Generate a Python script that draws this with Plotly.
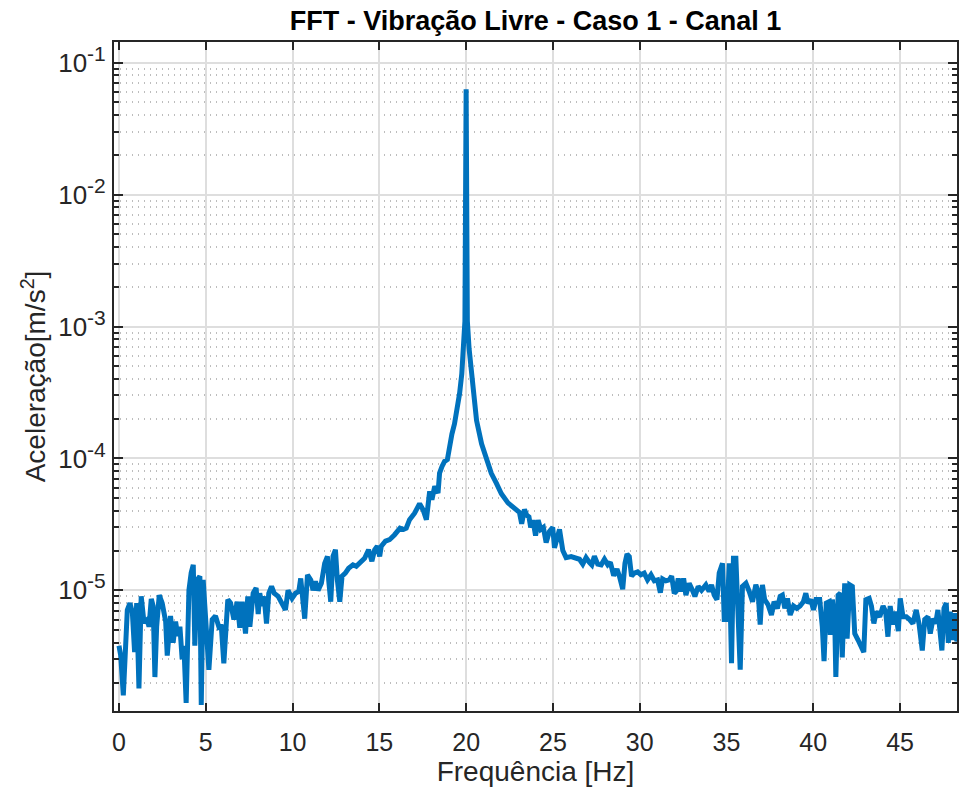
import plotly.graph_objects as go

# Frequency [Hz] and acceleration amplitude [m/s^2]
freq_hz = [
    0.0, 0.1, 0.25, 0.48, 0.63, 0.77, 0.9, 1.02, 1.15, 1.28,
    1.44, 1.63, 1.73, 1.86, 1.97, 2.07, 2.17, 2.32, 2.49, 2.69,
    2.78, 2.97, 3.12, 3.26, 3.39, 3.51, 3.64, 3.74, 3.87, 4.03,
    4.16, 4.28, 4.37, 4.51, 4.66, 4.74, 4.85, 4.99, 5.18, 5.37,
    5.56, 5.75, 5.89, 6.04, 6.14, 6.27, 6.43, 6.62, 6.81, 6.96,
    7.1, 7.29, 7.42, 7.54, 7.73, 7.9, 8.02, 8.11, 8.25, 8.36,
    8.5, 8.63, 8.79, 8.94, 9.17, 9.36, 9.59, 9.74, 9.97, 10.17,
    10.36, 10.47, 10.55, 10.7, 10.86, 11.05, 11.18, 11.32, 11.47, 11.66,
    11.85, 12.01, 12.08, 12.2, 12.33, 12.47, 12.58, 12.72, 12.85, 13.04,
    13.23, 13.48, 13.67, 13.92, 14.15, 14.38, 14.57, 14.73, 14.88, 15.02,
    15.11, 15.35, 15.59, 15.88, 16.19, 16.4, 16.55, 16.74, 17.03, 17.32,
    17.52, 17.71, 17.9, 18.03, 18.19, 18.38, 18.47, 18.61, 18.76, 18.92,
    19.05, 19.18, 19.33, 19.49, 19.62, 19.75, 19.85, 19.93, 20.0, 20.07,
    20.17, 20.27, 20.4, 20.6, 20.89, 21.17, 21.45, 21.74, 22.03, 22.41,
    22.8, 23.07, 23.2, 23.36, 23.5, 23.62, 23.72, 23.85, 24.0, 24.15,
    24.3, 24.45, 24.61, 24.8, 24.99, 25.09, 25.25, 25.38, 25.57, 25.76,
    26.05, 26.34, 26.53, 26.72, 26.91, 27.1, 27.24, 27.39, 27.58, 27.78,
    27.97, 28.16, 28.31, 28.5, 28.69, 28.83, 29.02, 29.15, 29.27, 29.4,
    29.53, 29.69, 29.88, 30.07, 30.26, 30.45, 30.65, 30.84, 31.03, 31.19,
    31.32, 31.51, 31.7, 31.84, 31.99, 32.09, 32.22, 32.38, 32.53, 32.66,
    32.85, 33.04, 33.18, 33.37, 33.56, 33.81, 34.0, 34.14, 34.29, 34.45,
    34.58, 34.77, 34.87, 35.02, 35.16, 35.29, 35.4, 35.54, 35.67, 35.79,
    35.92, 36.12, 36.31, 36.5, 36.69, 36.82, 36.94, 37.07, 37.2, 37.39,
    37.59, 37.74, 37.93, 38.09, 38.22, 38.36, 38.51, 38.67, 38.86, 39.05,
    39.24, 39.43, 39.57, 39.7, 39.86, 40.01, 40.16, 40.37, 40.52, 40.62,
    40.75, 40.91, 40.98, 41.1, 41.24, 41.3, 41.43, 41.56, 41.67, 41.81,
    41.95, 42.1, 42.25, 42.39, 42.58, 42.77, 42.91, 43.03, 43.22, 43.35,
    43.49, 43.63, 43.83, 44.02, 44.17, 44.3, 44.43, 44.59, 44.74, 44.9,
    45.01, 45.17, 45.36, 45.55, 45.74, 45.93, 46.09, 46.28, 46.42, 46.61,
    46.74, 46.9, 47.05, 47.18, 47.28, 47.41, 47.53, 47.66, 47.78, 47.89,
    48.01, 48.14, 48.27, 48.39,
]

accel = [
    3.8e-6, 3.2e-6, 1.6e-6, 7.1e-6, 8.0e-6, 6.8e-6, 3.4e-6, 8.0e-6, 1.8e-6, 9.0e-6,
    5.7e-6, 6.0e-6, 5.3e-6, 8.6e-6, 7.6e-6, 2.2e-6, 5.3e-6, 9.2e-6, 8.0e-6, 5.8e-6,
    3.2e-6, 6.4e-6, 4.0e-6, 5.8e-6, 4.5e-6, 5.3e-6, 3.0e-6, 3.8e-6, 1.4e-6, 1.0e-5,
    1.36e-5, 1.56e-5, 3.8e-6, 1.2e-5, 1.28e-5, 1.35e-6, 1.2e-5, 6.4e-6, 2.5e-6, 6.0e-6,
    6.4e-6, 5.3e-6, 5.5e-6, 2.8e-6, 4.2e-6, 8.5e-6, 8.0e-6, 6.0e-6, 8.2e-6, 5.2e-6,
    8.2e-6, 4.7e-6, 9.0e-6, 5.3e-6, 9.5e-6, 1.04e-5, 6.6e-6, 9.5e-6, 7.6e-6, 9.0e-6,
    5.6e-6, 9.5e-6, 1.07e-5, 9.5e-6, 9.0e-6, 8.2e-6, 7.1e-6, 1.0e-5, 8.7e-6, 9.5e-6,
    9.8e-6, 1.23e-5, 1.0e-5, 6.1e-6, 1.31e-5, 1.2e-5, 1.0e-5, 1.17e-5, 1.0e-5, 1.13e-5,
    1.6e-5, 1.81e-5, 1.2e-5, 8.2e-6, 1.81e-5, 2.03e-5, 1.2e-5, 8.2e-6, 1.28e-5, 1.35e-5,
    1.47e-5, 1.56e-5, 1.52e-5, 1.66e-5, 1.75e-5, 2.03e-5, 1.66e-5, 2.03e-5, 2.16e-5, 1.81e-5,
    2.16e-5, 2.36e-5, 2.42e-5, 2.64e-5, 2.96e-5, 2.9e-5, 2.96e-5, 3.43e-5, 3.84e-5, 4.54e-5,
    4.08e-5, 3.43e-5, 5.63e-5, 4.87e-5, 6.14e-5, 5.45e-5, 7.74e-5, 8.7e-5, 9.5e-5, 9.8e-5,
    1.29e-4, 1.53e-4, 1.83e-4, 2.31e-4, 3.09e-4, 4.38e-4, 6.6e-4, 1.1e-3, 6.3e-2, 1.1e-3,
    6.8e-4, 4.9e-4, 3.1e-4, 1.94e-4, 1.29e-4, 9.8e-5, 7.7e-5, 6.5e-5, 5.4e-5, 4.6e-5,
    4.1e-5, 3.9e-5, 3.2e-5, 4.1e-5, 3.7e-5, 3.6e-5, 3.0e-5, 3.4e-5, 2.6e-5, 3.4e-5,
    2.9e-5, 3.0e-5, 2.3e-5, 2.8e-5, 3.0e-5, 2.1e-5, 2.5e-5, 2.9e-5, 2.0e-5, 1.77e-5,
    1.8e-5, 1.77e-5, 1.72e-5, 1.58e-5, 1.77e-5, 1.63e-5, 1.56e-5, 1.81e-5, 1.58e-5, 1.56e-5,
    1.72e-5, 1.56e-5, 1.63e-5, 1.29e-5, 1.45e-5, 1.28e-5, 1.02e-5, 1.6e-5, 1.88e-5, 1.8e-5,
    1.28e-5, 1.35e-5, 1.38e-5, 1.31e-5, 1.35e-5, 1.2e-5, 1.31e-5, 1.18e-5, 1.2e-5, 9.6e-6,
    1.22e-5, 1.18e-5, 1.2e-5, 1.28e-5, 9.5e-6, 9.8e-6, 1.23e-5, 9.8e-6, 1.23e-5, 9.2e-6,
    1.13e-5, 1.0e-5, 9.0e-6, 1.07e-5, 1.0e-5, 1.1e-5, 9.8e-6, 1.1e-5, 9.2e-6, 8.5e-6,
    1.35e-5, 1.6e-5, 6.0e-6, 6.0e-6, 1.6e-5, 2.8e-6, 1.75e-5, 1.75e-5, 5.0e-6, 2.5e-6,
    1.07e-5, 1.13e-5, 9.8e-6, 8.2e-6, 1.1e-5, 9.8e-6, 5.5e-6, 1.1e-5, 8.5e-6, 7.8e-6,
    6.5e-6, 8.2e-6, 7.3e-6, 9.0e-6, 9.2e-6, 7.3e-6, 8.7e-6, 6.5e-6, 7.6e-6, 7.3e-6,
    7.6e-6, 8.2e-6, 9.5e-6, 8.0e-6, 8.5e-6, 7.1e-6, 8.5e-6, 8.5e-6, 5.3e-6, 2.9e-6,
    8.0e-6, 8.2e-6, 4.6e-6, 8.5e-6, 5.6e-6, 2.2e-6, 9.2e-6, 9.5e-6, 3.1e-6, 1.13e-5,
    4.3e-6, 1.1e-5, 1.07e-5, 4.7e-6, 4.2e-6, 3.75e-6, 3.4e-6, 8.5e-6, 8.7e-6, 7.6e-6,
    5.6e-6, 6.9e-6, 6.3e-6, 7.6e-6, 6.9e-6, 4.45e-6, 7.6e-6, 5.5e-6, 6.9e-6, 4.9e-6,
    8.7e-6, 6.3e-6, 6.3e-6, 6.0e-6, 5.6e-6, 7.1e-6, 5.6e-6, 3.5e-6, 6.0e-6, 6.3e-6,
    4.7e-6, 6.1e-6, 5.6e-6, 7.1e-6, 4.7e-6, 3.5e-6, 7.3e-6, 8.0e-6, 4.0e-6, 6.9e-6,
    4.2e-6, 6.7e-6, 4.1e-6, 5.6e-6,
]

x_tick_vals = [0, 5, 10, 15, 20, 25, 30, 35, 40, 45]
y_tick_vals = [1e-5, 1e-4, 1e-3, 1e-2, 1e-1]
y_tick_exps = ["-5", "-4", "-3", "-2", "-1"]
y_tick_text = ["10<sup><span style='font-size:21px'>%s</span></sup>" % e
               for e in y_tick_exps]
y_minor_vals = [m * 10.0 ** k for k in range(-6, 0) for m in range(2, 10)]

title_text = "FFT - Vibração Livre - Caso 1 - Canal 1"
x_title = "Frequência [Hz]"
y_title = "Aceleração[m/s<sup>2</sup>]"

AX = "#262626"
FONT = "Liberation Sans, Arial, sans-serif"

fig = go.Figure()
fig.add_trace(go.Scatter(
    x=freq_hz, y=accel, mode="lines",
    line=dict(color="#0072BD", width=5),
    showlegend=False,
))

fig.update_layout(
    width=960, height=796,
    margin=dict(l=114, r=1, t=42, b=85),
    paper_bgcolor="white", plot_bgcolor="white",
    font=dict(family=FONT, color=AX),
    title=dict(text="<b>" + title_text + "</b>", x=0.5, xref="paper",
               y=1 - 21 / 796, yref="container", yanchor="middle",
               font=dict(size=27, color="black", family=FONT)),
)

fig.update_xaxes(
    range=[-0.287, 48.28],
    tickmode="array", tickvals=x_tick_vals,
    ticks="inside", ticklen=8, tickwidth=2, tickcolor=AX,
    showline=True, linecolor=AX, linewidth=2, mirror="ticks",
    showgrid=True, gridcolor="#dedede", gridwidth=1.5,
    zeroline=False,
    tickfont=dict(size=25, color=AX),
    ticklabelstandoff=8,
    title=dict(text=x_title, font=dict(size=28, color=AX), standoff=6),
)

fig.update_yaxes(
    type="log", range=[-5.915, -0.843],
    tickmode="array", tickvals=y_tick_vals, ticktext=y_tick_text,
    ticks="inside", ticklen=9, tickwidth=2, tickcolor=AX,
    showline=True, linecolor=AX, linewidth=2, mirror="ticks",
    showgrid=True, gridcolor="#dedede", gridwidth=1.5,
    zeroline=False,
    tickfont=dict(size=26, color=AX),
    ticklabelstandoff=1,
    title=dict(text=y_title, font=dict(size=28, color=AX), standoff=4),
    minor=dict(tickmode="array", tickvals=y_minor_vals,
               ticks="inside", ticklen=5, tickwidth=1.5, tickcolor=AX,
               showgrid=True, gridcolor="#bdbdbd", griddash="1px,5px",
               gridwidth=1.5),
)

fig.write_html("out.html")
